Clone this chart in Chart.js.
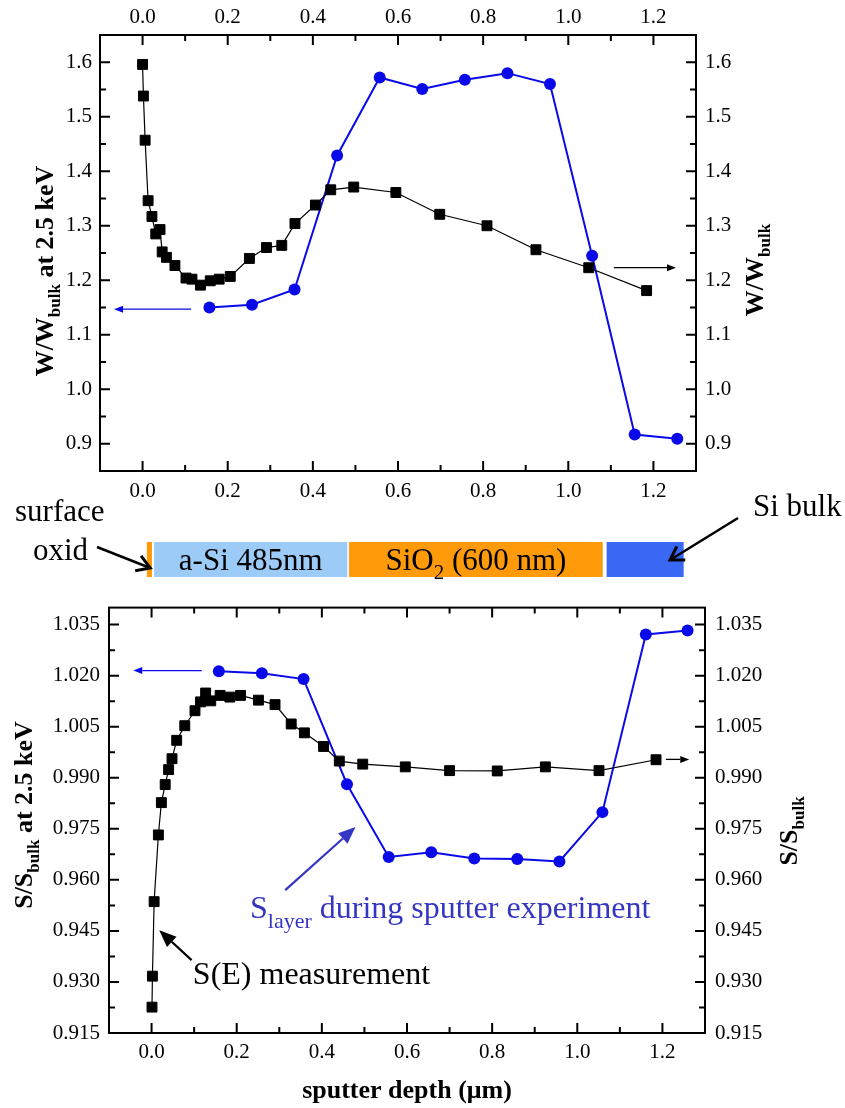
<!DOCTYPE html>
<html lang="en">
<head>
<meta charset="UTF-8">
<title>W/Wbulk and S/Sbulk vs sputter depth</title>
<script src="https://cdn.jsdelivr.net/npm/chart.js"></script>
<style>
  body { margin: 0; background: #fff; }
  .wrap { position: relative; width: 845px; height: 1108px; }
  #topChart { position: absolute; left: 0; top: 0; }
  #bottomChart { position: absolute; left: 0; top: 585px; }
</style>
</head>
<body>
<div class="wrap">
  <canvas id="topChart" width="845" height="585"></canvas>
  <canvas id="bottomChart" width="845" height="523"></canvas>
</div>
<script>
// ---- data ----
// top panel: W parameter
const wMeasDepth = [0.000, 0.002, 0.006, 0.013, 0.022, 0.031, 0.041, 0.046, 0.056, 0.076, 0.102, 0.116, 0.136, 0.159, 0.180, 0.206, 0.251, 0.291, 0.327, 0.358, 0.406, 0.442, 0.496, 0.595, 0.698, 0.809, 0.924, 1.048, 1.184];
const wMeasValue = [1.596, 1.538, 1.457, 1.346, 1.317, 1.285, 1.293, 1.252, 1.242, 1.227, 1.204, 1.202, 1.191, 1.199, 1.202, 1.207, 1.240, 1.260, 1.264, 1.304, 1.338, 1.366, 1.371, 1.361, 1.321, 1.300, 1.256, 1.223, 1.181];
const wSputDepth = [0.157, 0.257, 0.357, 0.457, 0.557, 0.657, 0.757, 0.857, 0.957, 1.056, 1.156, 1.256];
const wSputValue = [1.150, 1.155, 1.183, 1.429, 1.572, 1.551, 1.568, 1.580, 1.560, 1.245, 0.917, 0.909];

// bottom panel: S parameter
const sMeasDepth = [0.001, 0.002, 0.006, 0.016, 0.023, 0.032, 0.040, 0.048, 0.059, 0.078, 0.102, 0.115, 0.127, 0.139, 0.161, 0.184, 0.209, 0.251, 0.290, 0.328, 0.359, 0.404, 0.441, 0.496, 0.596, 0.700, 0.812, 0.925, 1.051, 1.185];
const sMeasValue = [0.9226, 0.9317, 0.9536, 0.9732, 0.9827, 0.9880, 0.9924, 0.9956, 1.0010, 1.0053, 1.0097, 1.0123, 1.0149, 1.0126, 1.0142, 1.0137, 1.0142, 1.0128, 1.0115, 1.0058, 1.0032, 0.9992, 0.9949, 0.9940, 0.9932, 0.9921, 0.9920, 0.9932, 0.9921, 0.9953];
const sSputDepth = [0.158, 0.259, 0.357, 0.459, 0.557, 0.657, 0.758, 0.859, 0.958, 1.059, 1.161, 1.259];
const sSputValue = [1.0213, 1.0207, 1.0190, 0.9881, 0.9667, 0.9681, 0.9663, 0.9661, 0.9654, 0.9799, 1.0321, 1.0333];

// tick labels
const depthTicks = [0.0, 0.2, 0.4, 0.6, 0.8, 1.0, 1.2];
const wTicks = [0.9, 1.0, 1.1, 1.2, 1.3, 1.4, 1.5, 1.6];
const sTicks = [0.915, 0.930, 0.945, 0.960, 0.975, 0.990, 1.005, 1.020, 1.035];

// sample layer stack (depth in um)
const layerStart = [0.010, 0.027, 0.485, 1.090];
const layerEnd   = [0.022, 0.481, 1.081, 1.271];

// ---- styles ----
const SERIF = "'Liberation Serif', 'Times New Roman', serif";
const BLUE = '#0a0ae8';
const NOTE_BLUE = '#3535c4';
const layerColors = ['#ff9a0a', '#9dcbf7', '#ff9a0a', '#3868f4'];

function pts(xs, ys) { return xs.map((x, i) => ({ x: x, y: ys[i] })); }

// draws a string made of pieces (for subscripts)
function rich(ctx, parts, x, y, align) {
  let w = 0;
  parts.forEach(p => {
    ctx.font = (p.bold ? 'bold ' : '') + p.size + 'px ' + SERIF;
    w += ctx.measureText(p.t).width;
  });
  let cx = align === 'center' ? x - w / 2 : x;
  ctx.textAlign = 'left';
  ctx.textBaseline = 'alphabetic';
  parts.forEach(p => {
    ctx.font = (p.bold ? 'bold ' : '') + p.size + 'px ' + SERIF;
    ctx.fillText(p.t, cx, y + (p.dy || 0));
    cx += ctx.measureText(p.t).width;
  });
}

function vrich(ctx, parts, x, y) {
  ctx.save();
  ctx.translate(x, y);
  ctx.rotate(-Math.PI / 2);
  rich(ctx, parts, 0, 0, 'center');
  ctx.restore();
}

function arrow(ctx, x1, y1, x2, y2, o) {
  const ang = Math.atan2(y2 - y1, x2 - x1);
  const bx = x2 - o.len * Math.cos(ang), by = y2 - o.len * Math.sin(ang);
  const px = -Math.sin(ang) * o.half, py = Math.cos(ang) * o.half;
  ctx.save();
  ctx.strokeStyle = o.color; ctx.fillStyle = o.color; ctx.lineWidth = o.width;
  ctx.beginPath();
  ctx.moveTo(x1, y1);
  if (o.filled) ctx.lineTo(bx, by); else ctx.lineTo(x2, y2);
  ctx.stroke();
  ctx.beginPath();
  if (o.filled) {
    ctx.moveTo(x2, y2); ctx.lineTo(bx + px, by + py); ctx.lineTo(bx - px, by - py);
    ctx.closePath(); ctx.fill();
  } else {
    ctx.lineWidth = o.width + 0.5;
    ctx.moveTo(bx + px, by + py); ctx.lineTo(x2, y2); ctx.lineTo(bx - px, by - py);
    ctx.stroke();
  }
  ctx.restore();
}

// box + inward ticks on all four sides
function drawFrame(chart, xTicks, yTicks) {
  const ctx = chart.ctx, a = chart.chartArea;
  const xs = chart.scales.x, ys = chart.scales.y;
  ctx.save();
  ctx.strokeStyle = '#000';
  ctx.lineWidth = 2;
  ctx.strokeRect(a.left, a.top, a.right - a.left, a.bottom - a.top);
  const tick = (scale, v, len, horiz) => {
    const p = scale.getPixelForValue(v);
    ctx.beginPath();
    if (horiz) {
      ctx.moveTo(p, a.bottom); ctx.lineTo(p, a.bottom - len);
      ctx.moveTo(p, a.top); ctx.lineTo(p, a.top + len);
    } else {
      ctx.moveTo(a.left, p); ctx.lineTo(a.left + len, p);
      ctx.moveTo(a.right, p); ctx.lineTo(a.right - len, p);
    }
    ctx.stroke();
  };
  const both = (scale, ticks, horiz) => {
    ticks.forEach(v => tick(scale, v, 10, horiz));
    const step = ticks[1] - ticks[0];
    for (let v = ticks[0] - step / 2; v < scale.max; v += step) {
      if (v > scale.min + 1e-9 && v < scale.max - 1e-9) tick(scale, v, 6, horiz);
    }
  };
  both(xs, xTicks, true);
  both(ys, yTicks, false);
  ctx.restore();
}

function depthAxis(pos, size, pad) {
  return {
    type: 'linear', position: pos, min: -0.1, max: 1.3,
    afterBuildTicks: s => { s.ticks = depthTicks.map(v => ({ value: v })); },
    afterFit: s => { s.height = size; },
    grid: { display: false, drawTicks: false }, border: { display: false },
    ticks: {
      padding: pad, color: '#000', autoSkip: false, maxRotation: 0,
      font: { family: SERIF, size: 21 },
      callback: v => v.toFixed(1)
    }
  };
}

function valueAxis(pos, min, max, tickList, size, pad, digits) {
  return {
    type: 'linear', position: pos, min: min, max: max,
    afterBuildTicks: s => { s.ticks = tickList.map(v => ({ value: v })); },
    afterFit: s => { s.width = size; },
    grid: { display: false, drawTicks: false }, border: { display: false },
    ticks: {
      padding: pad, color: '#000', autoSkip: false,
      font: { family: SERIF, size: 21 },
      callback: v => v.toFixed(digits)
    }
  };
}

const measStyle = {
  borderColor: '#000', backgroundColor: '#000', borderWidth: 1.2,
  pointStyle: 'rect', pointRadius: 7, pointBorderWidth: 1, tension: 0
};
const sputStyle = {
  borderColor: BLUE, backgroundColor: BLUE, borderWidth: 2,
  pointStyle: 'circle', pointRadius: 6, pointBorderWidth: 0, tension: 0
};

// ---------- top chart ----------
const topNotes = {
  id: 'topNotes',
  afterDraw(chart) {
    const ctx = chart.ctx;
    const xs = chart.scales.x, ys = chart.scales.y;
    drawFrame(chart, depthTicks, wTicks);
    const X = v => xs.getPixelForValue(v), Y = v => ys.getPixelForValue(v);

    // axis direction arrows
    arrow(ctx, X(0.114), Y(1.147), X(-0.067), Y(1.147), { color: BLUE, width: 1.3, len: 9, half: 3.5, filled: true });
    arrow(ctx, X(1.107), Y(1.223), X(1.253), Y(1.223), { color: '#000', width: 1.3, len: 9, half: 3.5, filled: true });

    // axis titles
    ctx.fillStyle = '#000';
    vrich(ctx, [
      { t: 'W/W', size: 26, bold: true },
      { t: 'bulk', size: 17, bold: true, dy: 7 },
      { t: ' at 2.5 keV', size: 26, bold: true }
    ], 53, 271);
    vrich(ctx, [
      { t: 'W/W', size: 26, bold: true },
      { t: 'bulk', size: 17, bold: true, dy: 7 }
    ], 763, 270);

    // layer stack
    const top = 542, h = 35;
    layerStart.forEach((s, i) => {
      ctx.fillStyle = layerColors[i];
      ctx.fillRect(X(s), top, X(layerEnd[i]) - X(s), h);
    });
    ctx.fillStyle = '#000';
    rich(ctx, [{ t: 'a-Si 485nm', size: 31 }], (X(layerStart[1]) + X(layerEnd[1])) / 2, 570, 'center');
    rich(ctx, [
      { t: 'SiO', size: 31 },
      { t: '2', size: 21, dy: 9 },
      { t: ' (600 nm)', size: 31 }
    ], (X(layerStart[2]) + X(layerEnd[2])) / 2, 570, 'center');

    rich(ctx, [{ t: 'surface', size: 31 }], 15, 521, 'left');
    rich(ctx, [{ t: 'oxid', size: 31 }], 33, 560, 'left');
    arrow(ctx, 97, 547, X(0.018), 568, { color: '#000', width: 2.5, len: 13, half: 8, filled: false });

    rich(ctx, [{ t: 'Si bulk', size: 31 }], 753, 516, 'left');
    arrow(ctx, 738, 518, 670, 560, { color: '#000', width: 2.5, len: 13, half: 8, filled: false });
  }
};

new Chart(document.getElementById('topChart'), {
  type: 'line',
  data: {
    datasets: [
      Object.assign({ label: 'W S(E) measurement', data: pts(wMeasDepth, wMeasValue), xAxisID: 'x', yAxisID: 'y2' }, measStyle),
      Object.assign({ label: 'W sputter experiment', data: pts(wSputDepth, wSputValue), xAxisID: 'x', yAxisID: 'y' }, sputStyle)
    ]
  },
  options: {
    responsive: false,
    animation: false,
    layout: { padding: 0 },
    plugins: { legend: { display: false }, tooltip: { enabled: false } },
    scales: {
      x: depthAxis('bottom', 114, 8),
      x2: depthAxis('top', 35, 5),
      y: valueAxis('left', 0.85, 1.65, wTicks, 100, 8, 1),
      y2: valueAxis('right', 0.85, 1.65, wTicks, 149, 9, 1)
    }
  },
  plugins: [topNotes]
});

// ---------- bottom chart ----------
const bottomNotes = {
  id: 'bottomNotes',
  afterDraw(chart) {
    const ctx = chart.ctx;
    const xs = chart.scales.x, ys = chart.scales.y;
    drawFrame(chart, depthTicks, sTicks);
    const X = v => xs.getPixelForValue(v), Y = v => ys.getPixelForValue(v);

    arrow(ctx, X(0.118), Y(1.0215), X(-0.043), Y(1.0215), { color: BLUE, width: 1.3, len: 9, half: 3.5, filled: true });
    arrow(ctx, X(1.208), Y(0.9954), X(1.263), Y(0.9954), { color: '#000', width: 1.3, len: 9, half: 3.5, filled: true });

    // annotations
    arrow(ctx, X(0.314), Y(0.957), X(0.479), Y(0.9755), { color: NOTE_BLUE, width: 2.2, len: 17, half: 7, filled: true });
    arrow(ctx, X(0.094), Y(0.9364), X(0.018), Y(0.9452), { color: '#000', width: 2.2, len: 17, half: 7, filled: true });

    ctx.fillStyle = NOTE_BLUE;
    rich(ctx, [
      { t: 'S', size: 32 },
      { t: 'layer', size: 22, dy: 10 },
      { t: ' during sputter experiment', size: 32 }
    ], X(0.2313), Y(0.94885), 'left');
    ctx.fillStyle = '#000';
    rich(ctx, [{ t: 'S(E) measurement', size: 32 }], X(0.097), Y(0.92948), 'left');

    // axis titles
    vrich(ctx, [
      { t: 'S/S', size: 26, bold: true },
      { t: 'bulk', size: 17, bold: true, dy: 7 },
      { t: ' at 2.5 keV', size: 26, bold: true }
    ], 32, 230);
    vrich(ctx, [
      { t: 'S/S', size: 26, bold: true },
      { t: 'bulk', size: 17, bold: true, dy: 7 }
    ], 797, 246);
    rich(ctx, [{ t: 'sputter depth (\u03bcm)', size: 26, bold: true }], 407, 513, 'center');
  }
};

new Chart(document.getElementById('bottomChart'), {
  type: 'line',
  data: {
    datasets: [
      Object.assign({ label: 'S(E) measurement', data: pts(sMeasDepth, sMeasValue), xAxisID: 'x', yAxisID: 'y2' }, measStyle),
      Object.assign({ label: 'S layer during sputter experiment', data: pts(sSputDepth, sSputValue), xAxisID: 'x', yAxisID: 'y' }, sputStyle)
    ]
  },
  options: {
    responsive: false,
    animation: false,
    layout: { padding: { top: 11 } },
    plugins: { legend: { display: false }, tooltip: { enabled: false } },
    scales: {
      x: depthAxis('bottom', 75, 7),
      y: valueAxis('left', 0.915, 1.040, sTicks, 109, 9, 3),
      y2: valueAxis('right', 0.915, 1.040, sTicks, 140, 10, 3)
    }
  },
  plugins: [bottomNotes]
});
</script>
</body>
</html>
